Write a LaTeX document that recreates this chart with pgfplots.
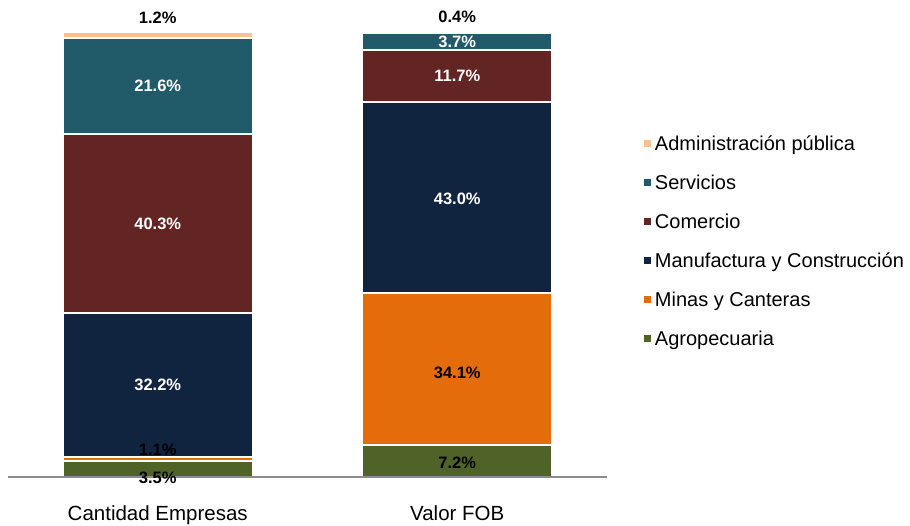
\documentclass[border=0pt]{standalone}
\usepackage{pgfplots}
\pgfplotsset{compat=1.18}
\usepackage{fontspec}
\setmainfont{Liberation Sans}
\definecolor{agro}{HTML}{4F6228}
\definecolor{minas}{HTML}{E46C0A}
\definecolor{manuf}{HTML}{10243F}
\definecolor{comercio}{HTML}{632523}
\definecolor{servicios}{HTML}{215A69}
\definecolor{admin}{HTML}{FAC090}
\definecolor{axisgray}{HTML}{8C8C8C}
\begin{document}
\begin{tikzpicture}
\path[use as bounding box] (0,0) rectangle (910pt,525pt);
\begin{axis}[
  at={(8pt,48pt)}, anchor=south west,
  scale only axis, width=599pt, height=445pt,
  xmin=-0.5, xmax=1.5, ymin=0, ymax=100,
  axis on top,
  axis y line=none, axis x line=bottom,
  x axis line style={-, draw=axisgray, line width=2pt},
  xtick={0,1}, xticklabels={Cantidad Empresas, Valor FOB},
  major tick length=0pt, ytick=\empty,
  xticklabel style={font=\fontsize{20.5}{24}\selectfont, yshift=-25pt},
  ybar stacked, bar width=190pt,
  every axis plot/.append style={draw=white, line width=2pt},
  reverse legend,
  legend image code/.code={\fill[#1] (0pt,-4.5pt) rectangle (9pt,4.5pt);},
  legend style={draw=none, fill=none, at={(1.058,0.530)}, anchor=west,
    font=\fontsize{20}{24}\selectfont, row sep=19pt, inner sep=0pt},
  legend cell align=left,
]
\addplot[fill=agro] coordinates {(0,3.5) (1,7.2)};
\addplot[fill=minas] coordinates {(0,1.1) (1,34.1)};
\addplot[fill=manuf] coordinates {(0,32.2) (1,43.0)};
\addplot[fill=comercio] coordinates {(0,40.3) (1,11.7)};
\addplot[fill=servicios] coordinates {(0,21.6) (1,3.7)};
\addplot[fill=admin] coordinates {(0,1.2) (1,0.4)};
\legend{Agropecuaria, Minas y Canteras, Manufactura y Construcción, Comercio, Servicios, Administración pública}
\end{axis}
\begin{axis}[
  at={(8pt,48pt)}, anchor=south west,
  scale only axis, width=599pt, height=445pt,
  xmin=-0.5, xmax=1.5, ymin=0, ymax=100,
  hide axis, clip=false,
]
\addplot[only marks, mark=none, point meta=explicit symbolic, nodes near coords,
  nodes near coords style={white, anchor=center, font=\bfseries\fontsize{16.5}{19}\selectfont}]
  coordinates {(0,87.9) [21.6\%] (0,56.9) [40.3\%] (0,20.6) [32.2\%]
               (1,97.75) [3.7\%] (1,90.1) [11.7\%] (1,62.5) [43.0\%]};
\addplot[only marks, mark=none, point meta=explicit symbolic, nodes near coords,
  nodes near coords style={black, anchor=center, font=\bfseries\fontsize{16.5}{19}\selectfont}]
  coordinates {(0,103.1) [1.2\%] (0,6.1) [1.1\%] (0,-0.2) [3.5\%]
               (1,103.3) [0.4\%] (1,23.4) [34.1\%] (1,3.1) [7.2\%]};
\end{axis}
\end{tikzpicture}
\end{document}
